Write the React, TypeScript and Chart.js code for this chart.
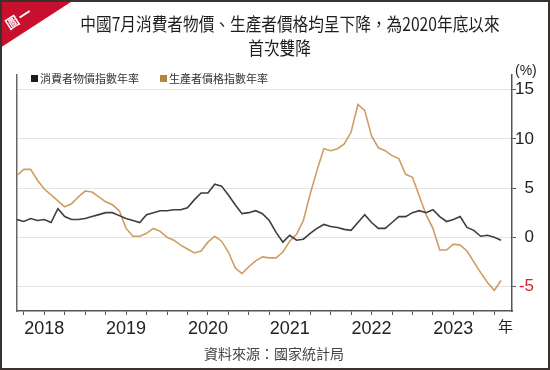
import React, { useEffect, useRef } from "react";
import { Chart, registerables } from "chart.js";

Chart.register(...registerables);

// Monthly data, Aug 2017 – Jul 2023 (index 0 = 2017-08)
const startMonth = "2017-08";
const cpi = [
  1.8, 1.6, 1.9, 1.7, 1.8,
  1.5, 2.9, 2.1, 1.8, 1.8, 1.9, 2.1, 2.3, 2.5, 2.5, 2.2, 1.9,
  1.7, 1.5, 2.3, 2.5, 2.7, 2.7, 2.8, 2.8, 3.0, 3.8, 4.5, 4.5,
  5.4, 5.2, 4.3, 3.3, 2.4, 2.5, 2.7, 2.4, 1.7, 0.5, -0.5, 0.2,
  -0.3, -0.2, 0.4, 0.9, 1.3, 1.1, 1.0, 0.8, 0.7, 1.5, 2.3, 1.5,
  0.9, 0.9, 1.5, 2.1, 2.1, 2.5, 2.7, 2.5, 2.8, 2.1, 1.6, 1.8,
  2.1, 1.0, 0.7, 0.1, 0.2, 0.0, -0.3,
];
const ppi = [
  6.3, 6.9, 6.9, 5.8, 4.9,
  4.3, 3.7, 3.1, 3.4, 4.1, 4.7, 4.6, 4.1, 3.6, 3.3, 2.7, 0.9,
  0.1, 0.1, 0.4, 0.9, 0.6, 0.0, -0.3, -0.8, -1.2, -1.6, -1.4, -0.5,
  0.1, -0.4, -1.5, -3.1, -3.7, -3.0, -2.4, -2.0, -2.1, -2.1, -1.5, -0.4,
  0.3, 1.7, 4.4, 6.8, 9.0, 8.8, 9.0, 9.5, 10.7, 13.5, 12.9, 10.3,
  9.1, 8.8, 8.3, 8.0, 6.4, 6.1, 4.2, 2.3, 0.9, -1.3, -1.3, -0.7,
  -0.8, -1.4, -2.5, -3.6, -4.6, -5.4, -4.4,
];
const yearLabels = ["2018", "2019", "2020", "2021", "2022", "2023"];
const yTicks = [-5, 0, 5, 10, 15];
const seriesNames = ["消費者物價指數年率", "生產者價格指數年率"];

const NARROW = '"Liberation Sans Narrow", "Liberation Sans", Arial, sans-serif';
const CJK = '"Noto Sans CJK TC", "Noto Sans CJK SC", sans-serif';

export default function App() {
  const ref = useRef<HTMLCanvasElement | null>(null);

  useEffect(() => {
    document.body.style.margin = "0";
    const canvas = ref.current!;
    const yearStartIdx = yearLabels.map((_, k) => {
      // tick sits at the Dec point preceding each January
      const [sy, sm] = startMonth.split("-").map(Number);
      return (Number(yearLabels[k]) - sy) * 12 + (1 - sm) - 1;
    });
    const chart = new Chart(canvas, {
      type: "line",
      data: {
        datasets: [
          {
            label: seriesNames[0],
            data: cpi.map((v, i) => ({ x: i, y: v })),
            borderColor: "#3e3e3e",
            borderWidth: 1.6,
            pointRadius: 0,
            tension: 0,
            order: 0,
          },
          {
            label: seriesNames[1],
            data: ppi.map((v, i) => ({ x: i, y: v })),
            borderColor: "#cf9d62",
            borderWidth: 1.6,
            pointRadius: 0,
            tension: 0,
            order: 1,
          },
        ],
      },
      options: {
        animation: false,
        responsive: false,
        events: [],
        layout: { padding: { left: 17, top: 75, right: 16, bottom: 34 } },
        plugins: { legend: { display: false }, tooltip: { enabled: false } },
        scales: {
          x: {
            type: "linear",
            min: 0,
            max: 72.6,
            afterBuildTicks: (s: any) => {
              const t = [];
              for (let v = yearStartIdx[0] - 3; v <= cpi.length - 1; v += 3) t.push({ value: v });
              s.ticks = t;
            },
            afterFit: (s: any) => {
              s.height = 25;
            },
            ticks: {
              autoSkip: false,
              maxRotation: 0,
              padding: 3,
              color: "#222",
              font: { family: NARROW, size: 18 },
              callback: (v: any) => {
                const k = yearStartIdx.indexOf(Number(v));
                return k >= 0 ? yearLabels[k] : "";
              },
            },
            grid: {
              drawOnChartArea: false,
              drawTicks: true,
              tickLength: 4,
              tickColor: "#555",
            },
            border: { display: true, color: "#555", width: 1.5 },
          },
          y: {
            position: "right",
            min: -7.5,
            max: 16.5,
            afterBuildTicks: (s: any) => {
              s.ticks = yTicks.map((v) => ({ value: v }));
            },
            afterFit: (s: any) => {
              s.width = 22;
            },
            ticks: {
              padding: 2,
              crossAlign: "far",
              color: (c: any) => (c.tick && c.tick.value < 0 ? "#d4202c" : "#222"),
              font: { family: NARROW, size: 17 },
              callback: (v: any) => String(v),
            },
            grid: {
              drawOnChartArea: true,
              color: "#e4e4e4",
              lineWidth: 1,
              drawTicks: true,
              tickLength: 4,
              tickColor: "#555",
            },
            border: { display: true, color: "#555", width: 1.5 },
          },
          yl: {
            position: "left",
            min: -7.5,
            max: 16.5,
            ticks: { display: false },
            grid: { drawOnChartArea: false, drawTicks: false },
            border: { display: true, color: "#666", width: 1.5 },
            afterFit: (s: any) => {
              s.width = 0;
            },
          },
        },
      },
    } as any);
    return () => chart.destroy();
  }, []);

  const abs: React.CSSProperties = { position: "absolute" };

  return (
    <div style={{ position: "absolute", left: 0, top: 0, width: 550, height: 370, background: "#fff", overflow: "hidden" }}>
      <canvas ref={ref} width={550} height={370} style={{ ...abs, left: 0, top: 0, width: 550, height: 370 }} />
      {/* title */}
      <div
        style={{
          ...abs,
          left: 40,
          top: 11,
          width: 500,
          textAlign: "center",
          fontFamily: CJK,
          fontSize: 18,
          lineHeight: "24px",
          color: "#1e1e1e",
          whiteSpace: "nowrap",
          transform: "scaleX(0.87)",
          transformOrigin: "center",
        }}
      >
        <div>中國7月消費者物價、生產者價格均呈下降，為2020年底以來</div>
        <div style={{ position: "relative", left: -12 }}>首次雙降</div>
      </div>
      {/* legend */}
      <div style={{ ...abs, left: 31, top: 71, display: "flex", alignItems: "center", fontFamily: CJK, fontSize: 11, color: "#333", lineHeight: "14px", whiteSpace: "nowrap" }}>
        <span style={{ width: 7, height: 7, background: "#1c1c1c", display: "inline-block", marginRight: 2 }} />
        <span>{seriesNames[0]}</span>
        <span style={{ width: 7, height: 7, background: "#b8843f", display: "inline-block", marginLeft: 21, marginRight: 2 }} />
        <span>{seriesNames[1]}</span>
      </div>
      {/* unit */}
      <div style={{ ...abs, left: 515, top: 62, fontFamily: '"Liberation Sans", Arial, sans-serif', fontSize: 14, color: "#222" }}>(%)</div>
      <div style={{ ...abs, left: 498, top: 317, fontFamily: CJK, fontSize: 15, color: "#222", lineHeight: "18px" }}>年</div>
      {/* source */}
      <div style={{ ...abs, left: 0, width: 550, top: 344, textAlign: "center", fontFamily: CJK, fontSize: 14, color: "#444", lineHeight: "18px" }}>
        <span style={{ position: "relative", left: -1 }}>資料來源：國家統計局</span>
      </div>
      {/* red corner tag */}
      <div style={{ ...abs, left: 0, top: 0, width: 74, height: 48, background: "#c8102e", clipPath: "polygon(0 0, 74px 0, 0 48px)" }} />
      <div
        style={{
          ...abs,
          left: 3,
          top: 20,
          fontFamily: CJK,
          fontSize: 13,
          fontWeight: 700,
          color: "#fff",
          transform: "rotate(-33deg)",
          transformOrigin: "left top",
          lineHeight: "14px",
          whiteSpace: "nowrap",
          letterSpacing: 2,
        }}
      >
        圖一
      </div>
      {/* frame */}
      <div style={{ ...abs, left: 0, top: 0, width: 550, height: 370, boxSizing: "border-box", border: "2px solid #3a302c", pointerEvents: "none" }} />
    </div>
  );
}
